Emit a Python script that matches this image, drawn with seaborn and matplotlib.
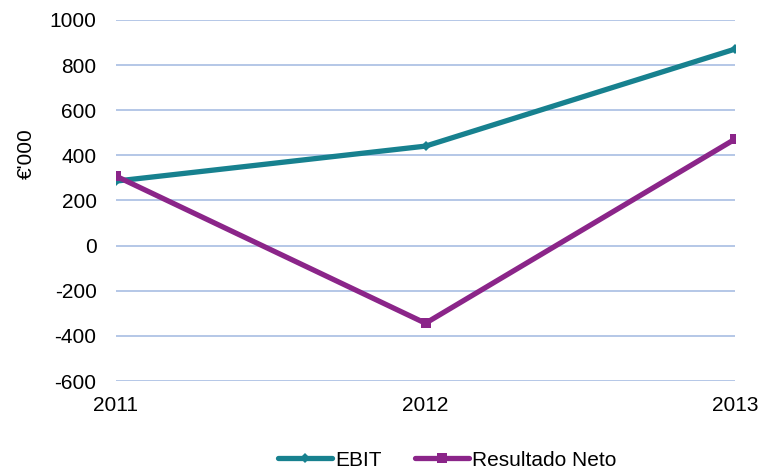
import matplotlib
matplotlib.use("Agg")
import matplotlib.pyplot as plt
import seaborn as sns
import pandas as pd

years = ["2011", "2012", "2013"]
ebit = [286, 441, 871]
resultado_neto = [308, -344, 472]
series_names = ["EBIT", "Resultado Neto"]
y_ticks = [-600, -400, -200, 0, 200, 400, 600, 800, 1000]

sns.set_theme(style="white")
plt.rcParams['font.family'] = ['Liberation Sans', 'DejaVu Sans']
plt.rcParams['text.color'] = 'black'
plt.rcParams['xtick.color'] = 'black'
plt.rcParams['ytick.color'] = 'black'
plt.rcParams['axes.labelcolor'] = 'black'

df = pd.DataFrame({
    "x": list(range(len(years))) * 2,
    "value": ebit + resultado_neto,
    "series": [series_names[0]] * 3 + [series_names[1]] * 3,
})

fig = plt.figure(figsize=(7.62, 4.73), dpi=100)
ax = fig.add_axes([116/762, 1 - 381/473, (735-116)/762, (381-20)/473])

palette = {"EBIT": "#17818F", "Resultado Neto": "#8B2589"}
markers = {"EBIT": "D", "Resultado Neto": "s"}
for name in series_names:
    sub = df[df.series == name]
    sns.lineplot(data=sub, x="x", y="value", ax=ax, color=palette[name],
                 linewidth=3.8, marker=markers[name],
                 markersize=5 if name == "EBIT" else 7.5,
                 markeredgewidth=0, label=name, legend=False)

fs = 15
ax.set_xlim(0, 2)
ax.set_ylim(-600, 1000)
ax.set_yticks(y_ticks)
ax.set_yticklabels([str(v) for v in y_ticks], fontsize=fs)
ax.set_xticks(range(len(years)))
ax.set_xticklabels(years, fontsize=fs)
ax.tick_params(axis='both', length=0)
ax.tick_params(axis='x', pad=11)
ax.tick_params(axis='y', pad=14)
ax.set_xlabel("")
ax.set_ylabel("€'000", fontsize=fs)
ax.yaxis.set_label_coords((36 - 116) / 619, (381 - 154) / 361)
ax.yaxis.grid(True, color="#B4C7E7", linewidth=1.4)
ax.xaxis.grid(False)
for s in ax.spines.values():
    s.set_visible(False)
ax.set_axisbelow(True)

handles, labels = ax.get_legend_handles_labels()
fig.legend(handles, labels, loc="center", bbox_to_anchor=(447/762, 1 - 460/473),
           ncol=2, frameon=False, fontsize=fs, handlelength=2.6,
           columnspacing=1.6, handletextpad=0.15)

fig.savefig("out.png", dpi=100)
